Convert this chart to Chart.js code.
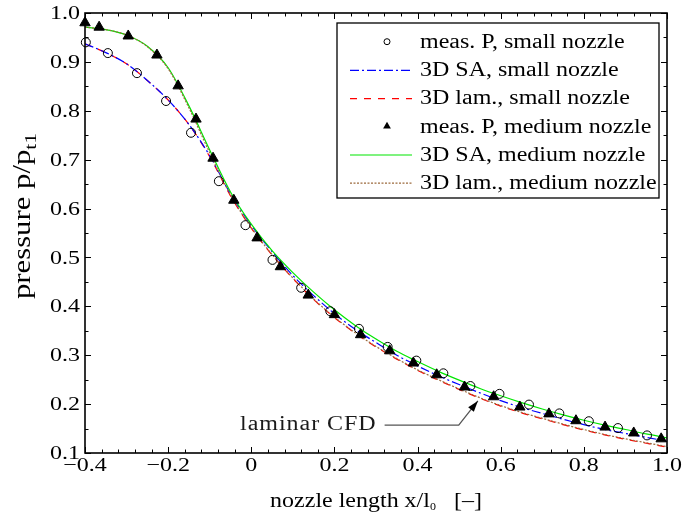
<!DOCTYPE html>
<html>
<head>
<meta charset="utf-8">
<script src="https://cdn.jsdelivr.net/npm/chart.js@4/dist/chart.umd.min.js"></script>
<style>
  html, body { margin: 0; padding: 0; background: #ffffff; }
  canvas { display: block; }
</style>
</head>
<body>
<canvas id="chart" width="683" height="514"></canvas>
<script>
// Axial pressure distribution along the nozzle, p/p_t1 over x/l0

// Shared x stations of the CFD curves
const cfdX = [-0.40, -0.35, -0.30, -0.25, -0.20, -0.15, -0.10, -0.05, 0.00, 0.05,
               0.10,  0.15,  0.20,  0.25,  0.30,  0.35,  0.40,  0.45, 0.50, 0.55,
               0.60,  0.65,  0.70,  0.75,  0.80,  0.85,  0.90,  0.95, 1.00];

// 3D SA, small nozzle
const saSmall = [0.937, 0.919, 0.896, 0.862, 0.822, 0.772, 0.708, 0.630, 0.566, 0.512,
                 0.463, 0.422, 0.385, 0.353, 0.326, 0.300, 0.278, 0.258, 0.240, 0.223,
                 0.207, 0.193, 0.181, 0.169, 0.158, 0.148, 0.140, 0.132, 0.124];

// 3D laminar, small nozzle
const lamSmall = [0.937, 0.919, 0.896, 0.862, 0.822, 0.772, 0.706, 0.626, 0.560, 0.505,
                  0.457, 0.414, 0.377, 0.345, 0.317, 0.292, 0.269, 0.249, 0.230, 0.212,
                  0.196, 0.182, 0.170, 0.158, 0.147, 0.137, 0.128, 0.120, 0.112];

// 3D SA, medium nozzle
const saMedium = [0.971, 0.966, 0.955, 0.932, 0.888, 0.810, 0.720, 0.634, 0.568, 0.514,
                  0.469, 0.429, 0.393, 0.361, 0.333, 0.308, 0.287, 0.267, 0.249, 0.232,
                  0.217, 0.203, 0.190, 0.178, 0.167, 0.157, 0.148, 0.139, 0.131];

// 3D laminar, medium nozzle
const lamMedium = [0.971, 0.966, 0.955, 0.931, 0.886, 0.806, 0.714, 0.628, 0.561, 0.506,
                   0.458, 0.415, 0.378, 0.346, 0.318, 0.293, 0.270, 0.250, 0.231, 0.213,
                   0.197, 0.183, 0.171, 0.159, 0.148, 0.138, 0.129, 0.121, 0.113];

// Measured wall pressure, small nozzle
const measSmallX = [-0.398, -0.345, -0.275, -0.205, -0.145, -0.078, -0.014, 0.051, 0.120, 0.190,
                     0.259,  0.328,  0.397,  0.462,  0.527,  0.597,  0.668, 0.741, 0.812, 0.882, 0.952];
const measSmallP = [0.940, 0.918, 0.877, 0.820, 0.755, 0.656, 0.566, 0.495, 0.438, 0.390,
                    0.354, 0.317, 0.289, 0.263, 0.237, 0.221, 0.199, 0.181, 0.165, 0.151, 0.136];

// Measured wall pressure, medium nozzle
const measMediumX = [-0.400, -0.366, -0.296, -0.227, -0.176, -0.133, -0.092, -0.042, 0.014, 0.070,
                      0.137,  0.200,  0.263,  0.333,  0.390,  0.446,  0.513,  0.583, 0.646, 0.716,
                      0.781,  0.851,  0.920,  0.986];
const measMediumP = [0.980, 0.971, 0.953, 0.914, 0.851, 0.783, 0.703, 0.617, 0.540, 0.481,
                     0.423, 0.383, 0.342, 0.309, 0.284, 0.260, 0.235, 0.215, 0.194, 0.180,
                     0.166, 0.153, 0.141, 0.129];

// Axis ticks
const xTicks = [-0.4, -0.2, 0, 0.2, 0.4, 0.6, 0.8, 1.0];
const xTickLabels = ['\u22120.4', '\u22120.2', '0', '0.2', '0.4', '0.6', '0.8', '1.0'];
const yTicks = [0.1, 0.2, 0.3, 0.4, 0.5, 0.6, 0.7, 0.8, 0.9, 1.0];
const yTickLabels = ['0.1', '0.2', '0.3', '0.4', '0.5', '0.6', '0.7', '0.8', '0.9', '1.0'];
const xMinorStep = 0.04;
const yMinorStep = 0.05;

const SERIF = '"Liberation Serif", "Times New Roman", serif';

const toPoints = (xs, ys) => xs.map((x, i) => ({ x, y: ys[i] }));

// draws text squeezed/stretched horizontally by sx
function stretchedText(ctx, text, x, y, size, sx, align, baseline, color, spacing) {
  ctx.save();
  ctx.translate(x, y);
  ctx.scale(sx, 1);
  ctx.font = size + 'px ' + SERIF;
  ctx.textAlign = align;
  ctx.textBaseline = baseline;
  ctx.fillStyle = color || '#000';
  if (spacing) ctx.letterSpacing = spacing;
  ctx.fillText(text, 0, 0);
  ctx.restore();
}

// text with subscripts, centred on cx, baseline at 0 of the current frame
function richText(ctx, parts, cx, baseY, size, sx) {
  let total = 0;
  parts.forEach(p => {
    ctx.font = (size * p.scale) + 'px ' + SERIF;
    p.w = ctx.measureText(p.text).width;
    total += p.w;
  });
  ctx.save();
  ctx.translate(cx, baseY);
  ctx.scale(sx, 1);
  ctx.textAlign = 'left';
  ctx.textBaseline = 'alphabetic';
  ctx.fillStyle = '#000';
  let xx = -total / 2;
  parts.forEach(p => {
    ctx.font = (size * p.scale) + 'px ' + SERIF;
    ctx.fillText(p.text, xx, p.dy * size);
    xx += p.w;
  });
  ctx.restore();
}

const axesFrame = {
  id: 'axesFrame',
  afterDatasetsDraw(chart) {
    const { ctx, chartArea: a, scales: { x, y } } = chart;
    ctx.save();
    // inward tick marks on all four sides
    ctx.strokeStyle = '#000';
    ctx.lineWidth = 1;
    ctx.beginPath();
    const nx = Math.round((x.max - x.min) / xMinorStep);
    for (let i = 0; i <= nx; i++) {
      const v = x.min + i * xMinorStep;
      const major = xTicks.some(t => Math.abs(t - v) < 1e-6);
      const len = major ? 6 : 3.5;
      const px = Math.round(x.getPixelForValue(v)) + 0.5;
      ctx.moveTo(px, a.bottom); ctx.lineTo(px, a.bottom - len);
      ctx.moveTo(px, a.top); ctx.lineTo(px, a.top + len);
    }
    const ny = Math.round((y.max - y.min) / yMinorStep);
    for (let i = 0; i <= ny; i++) {
      const v = y.min + i * yMinorStep;
      const major = yTicks.some(t => Math.abs(t - v) < 1e-6);
      const len = major ? 6 : 3.5;
      const py = Math.round(y.getPixelForValue(v)) + 0.5;
      ctx.moveTo(a.left, py); ctx.lineTo(a.left + len, py);
      ctx.moveTo(a.right, py); ctx.lineTo(a.right - len, py);
    }
    ctx.stroke();
    // box
    ctx.lineWidth = 1.6;
    ctx.strokeRect(a.left, a.top, a.right - a.left, a.bottom - a.top);

    // tick labels
    xTicks.forEach((v, i) => {
      stretchedText(ctx, xTickLabels[i], x.getPixelForValue(v), a.bottom + 13, 19.5, 1.23, 'center', 'middle');
    });
    yTicks.forEach((v, i) => {
      stretchedText(ctx, yTickLabels[i], a.left - 5, y.getPixelForValue(v) + 1, 19.5, 1.23, 'right', 'middle');
    });

    // axis titles
    richText(ctx, [
      { text: 'nozzle length x/l', scale: 1, dy: 0 },
      { text: '0', scale: 0.5, dy: 0.12 },
      { text: '\u2002 [\u2013]', scale: 1, dy: 0 }
    ], (a.left + a.right) / 2, 507, 22, 1.09);

    ctx.save();
    ctx.translate(30, 216);
    ctx.rotate(-Math.PI / 2);
    richText(ctx, [
      { text: 'pressure p/p', scale: 1, dy: 0 },
      { text: 't1', scale: 0.7, dy: 0.25 }
    ], 0, 0, 25, 1.23);
    ctx.restore();

    ctx.restore();
  }
};

// "laminar CFD" callout with arrow onto the laminar curves
const cfdNote = { text: 'laminar CFD', textX: -0.027, textY: 0.157, elbowX: 0.499, tipX: 0.545, tipY: 0.2065 };

const callout = {
  id: 'callout',
  afterDatasetsDraw(chart) {
    const { ctx, scales: { x, y } } = chart;
    const tx = x.getPixelForValue(cfdNote.textX);
    const ty = y.getPixelForValue(cfdNote.textY);
    ctx.save();
    ctx.font = '20px ' + SERIF;
    ctx.letterSpacing = '0.8px';
    const w = ctx.measureText(cfdNote.text).width * 1.2;
    ctx.letterSpacing = '0px';
    stretchedText(ctx, cfdNote.text, tx, ty, 20, 1.2, 'left', 'middle', '#1a1a1a', '0.8px');
    const ex = x.getPixelForValue(cfdNote.elbowX);
    const px = x.getPixelForValue(cfdNote.tipX);
    const py = y.getPixelForValue(cfdNote.tipY);
    ctx.strokeStyle = '#555';
    ctx.lineWidth = 1.3;
    ctx.beginPath();
    ctx.moveTo(tx + w + 8, ty);
    ctx.lineTo(ex, ty);
    ctx.lineTo(px, py);
    ctx.stroke();
    // arrow head
    const ang = Math.atan2(py - ty, px - ex);
    const L = 11, H = 3.6;
    ctx.fillStyle = '#000';
    ctx.beginPath();
    ctx.moveTo(px, py);
    ctx.lineTo(px - L * Math.cos(ang) + H * Math.sin(ang), py - L * Math.sin(ang) - H * Math.cos(ang));
    ctx.lineTo(px - L * Math.cos(ang) - H * Math.sin(ang), py - L * Math.sin(ang) + H * Math.cos(ang));
    ctx.closePath();
    ctx.fill();
    ctx.restore();
  }
};

// legend box drawn from the dataset styles
const boxLegend = {
  id: 'boxLegend',
  afterDraw(chart) {
    const { ctx, chartArea: a } = chart;
    const left = a.left + 252, top = a.top + 10, right = a.right - 8, bottom = a.top + 185;
    ctx.save();
    ctx.fillStyle = '#fff';
    ctx.fillRect(left, top, right - left, bottom - top);
    ctx.strokeStyle = '#000';
    ctx.lineWidth = 1.3;
    ctx.strokeRect(left, top, right - left, bottom - top);
    chart.data.datasets.forEach((ds, i) => {
      const ry = top + 18.7 + i * 28.2;
      if (ds.pointRadius > 0) {
        const cx = left + 50;
        ctx.strokeStyle = ds.pointBorderColor;
        ctx.fillStyle = ds.pointBackgroundColor;
        ctx.lineWidth = 1;
        if (ds.pointStyle === 'circle') {
          ctx.beginPath(); ctx.arc(cx, ry, 3, 0, Math.PI * 2); ctx.stroke();
        } else {
          const r = 4.5;
          ctx.beginPath();
          ctx.moveTo(cx, ry - r);
          ctx.lineTo(cx + r * 0.866, ry + r / 2);
          ctx.lineTo(cx - r * 0.866, ry + r / 2);
          ctx.closePath(); ctx.fill();
        }
      } else {
        ctx.strokeStyle = ds.borderColor;
        ctx.lineWidth = ds.borderWidth;
        ctx.setLineDash(ds.borderDash || []);
        ctx.beginPath();
        ctx.moveTo(left + 13, ry + 0.5);
        ctx.lineTo(left + 75, ry + 0.5);
        ctx.stroke();
        ctx.setLineDash([]);
      }
      stretchedText(ctx, ds.label, left + 83, ry + 1, 20, 1.2, 'left', 'middle');
    });
    ctx.restore();
  }
};

const lineSet = (label, ys, color, dash, order) => ({
  label,
  data: toPoints(cfdX, ys),
  borderColor: color,
  borderWidth: 1.2,
  borderDash: dash,
  pointRadius: 0,
  fill: false,
  cubicInterpolationMode: 'monotone',
  order
});

new Chart(document.getElementById('chart'), {
  type: 'line',
  data: {
    datasets: [
      {
        label: 'meas. P, small nozzle',
        data: toPoints(measSmallX, measSmallP),
        showLine: false,
        pointStyle: 'circle',
        pointRadius: 4.5,
        pointBorderWidth: 1,
        pointBorderColor: '#000',
        pointBackgroundColor: 'rgba(255,255,255,0)',
        clip: false,
        order: 0
      },
      lineSet('3D SA, small nozzle', saSmall, '#0000ff', [9, 3, 2, 3], 3),
      lineSet('3D lam., small nozzle', lamSmall, '#ff0000', [7, 7], 4),
      {
        label: 'meas. P, medium nozzle',
        data: toPoints(measMediumX, measMediumP),
        showLine: false,
        pointStyle: 'triangle',
        pointRadius: 6,
        pointBorderWidth: 1,
        pointBorderColor: '#000',
        pointBackgroundColor: '#000',
        clip: false,
        order: 0
      },
      lineSet('3D SA, medium nozzle', saMedium, '#00e600', [], 2),
      lineSet('3D lam., medium nozzle', lamMedium, '#9c6a3c', [2, 1.5], 1)
    ]
  },
  options: {
    responsive: false,
    animation: false,
    devicePixelRatio: 1,
    layout: { padding: { left: 85, top: 13, right: 16, bottom: 61 } },
    scales: {
      x: { type: 'linear', min: -0.4, max: 1.0, display: false },
      y: { type: 'linear', min: 0.1, max: 1.0, display: false }
    },
    plugins: {
      legend: { display: false },
      tooltip: { enabled: false }
    }
  },
  plugins: [axesFrame, callout, boxLegend]
});
</script>
</body>
</html>
